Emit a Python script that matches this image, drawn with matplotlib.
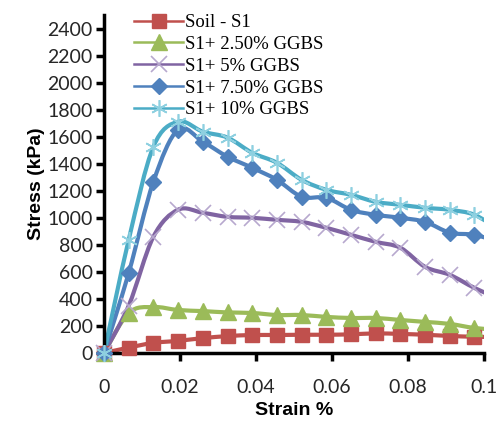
import numpy as np
import matplotlib.pyplot as plt
from matplotlib.path import Path
from matplotlib.patches import PathPatch

# strain readings (the last one lies just past the axis end and is clipped)
strain = [0, 0.0065, 0.013, 0.0195, 0.026, 0.0325, 0.039, 0.0455, 0.052,
          0.0585, 0.065, 0.0715, 0.078, 0.0845, 0.091, 0.0975, 0.104]

soil_s1 = [0, 40, 75, 90, 110, 125, 133, 133, 135, 135, 138, 145, 141, 135, 126, 120, 118]
ggbs_2_5 = [0, 296, 340, 318, 310, 300, 296, 281, 281, 267, 259, 259, 244, 230, 215, 185, 170]
ggbs_5 = [0, 350, 860, 1060, 1037, 1007, 1000, 985, 970, 926, 874, 822, 778, 637, 578, 481, 400]
ggbs_7_5 = [0, 592, 1267, 1652, 1563, 1452, 1370, 1281, 1156, 1148, 1059, 1022, 1000, 970, 890, 874, 820]
ggbs_10 = [0, 837, 1526, 1711, 1637, 1593, 1481, 1407, 1281, 1207, 1170, 1118, 1096, 1074, 1059, 1022, 910]

labels = ['Soil - S1', 'S1+ 2.50% GGBS', 'S1+ 5% GGBS', 'S1+ 7.50% GGBS', 'S1+ 10% GGBS']
x_ticks = [0, 0.02, 0.04, 0.06, 0.08, 0.1]
x_ticklabels = ['0', '0.02', '0.04', '0.06', '0.08', '0.1']
y_ticks = list(range(0, 2401, 200))


def smooth_path(xs, ys):
    # excel-style smoothed line as cubic bezier segments
    pts = np.column_stack([xs, ys]).astype(float)
    n = len(pts)
    verts = [pts[0]]
    codes = [Path.MOVETO]
    for i in range(n - 1):
        p0 = pts[i - 1] if i > 0 else pts[i]
        p1 = pts[i]
        p2 = pts[i + 1]
        p3 = pts[i + 2] if i + 2 < n else pts[i + 1]
        c1 = p1 + (p2 - p0) / 6.0
        c2 = p2 - (p3 - p1) / 6.0
        verts += [c1, c2, p2]
        codes += [Path.CURVE4] * 3
    return Path(verts, codes)


series = [
    (soil_s1, '#C0504D', dict(marker='s', ms=10, mfc='#C0504D', mec='#C0504D', mew=1)),
    (ggbs_2_5, '#9BBB59', dict(marker='^', ms=11, mfc='#9BBB59', mec='#9BBB59', mew=1)),
    (ggbs_5, '#8064A2', dict(marker='x', ms=11, mfc='none', mec='#B7A8CE', mew=1.2)),
    (ggbs_7_5, '#4F81BD', dict(marker='D', ms=8, mfc='#4F81BD', mec='#4F81BD', mew=1)),
    (ggbs_10, '#4BACC6', dict(marker=(6, 2, 0), ms=12, mfc='none', mec='#8ED0E0', mew=1.2)),
]

fig = plt.figure(figsize=(5.02, 4.25), dpi=100)
ax = fig.add_axes([104 / 502, 1 - 353 / 425, 380 / 502, 338 / 425])

handles = []
for ys, col, mk in series:
    ax.add_patch(PathPatch(smooth_path(strain, ys), facecolor='none', edgecolor=col,
                           lw=3, zorder=2))
    sx = [s for s in strain if s <= 0.1]
    ax.plot(sx, ys[:len(sx)], ls='none', clip_on=False, zorder=3, **mk)
    h, = ax.plot([], [], color=col, lw=1.8, **mk)
    handles.append(h)

ax.set_xlim(0, 0.1)
ax.set_ylim(0, 2500)
ax.set_xticks(x_ticks)
ax.set_xticklabels(x_ticklabels)
ax.set_yticks(y_ticks)

for side in ['top', 'right']:
    ax.spines[side].set_visible(False)
for side in ['left', 'bottom']:
    ax.spines[side].set_linewidth(2.5)

ax.tick_params(axis='y', direction='out', length=6, width=2.5, pad=2,
               labelsize=14, labelcolor='#262626')
ax.tick_params(axis='x', direction='out', length=6, width=2.5, pad=13,
               labelsize=14, labelcolor='#262626')
for lab in ax.get_xticklabels() + ax.get_yticklabels():
    lab.set_family('Lato')

ax.set_xlabel('Strain %', fontsize=14, fontweight='bold', family='Liberation Sans', labelpad=4)
ax.set_ylabel('Stress (kPa)', fontsize=14, fontweight='bold', family='Liberation Sans', labelpad=2)

ax.legend(handles, labels, loc='upper left', bbox_to_anchor=(0.06, 1.025), frameon=False,
          prop={'family': 'Liberation Serif', 'size': 13.5}, handlelength=2.6,
          handletextpad=0.1, labelspacing=0.25, borderaxespad=0)

fig.savefig('out.png', dpi=100)
